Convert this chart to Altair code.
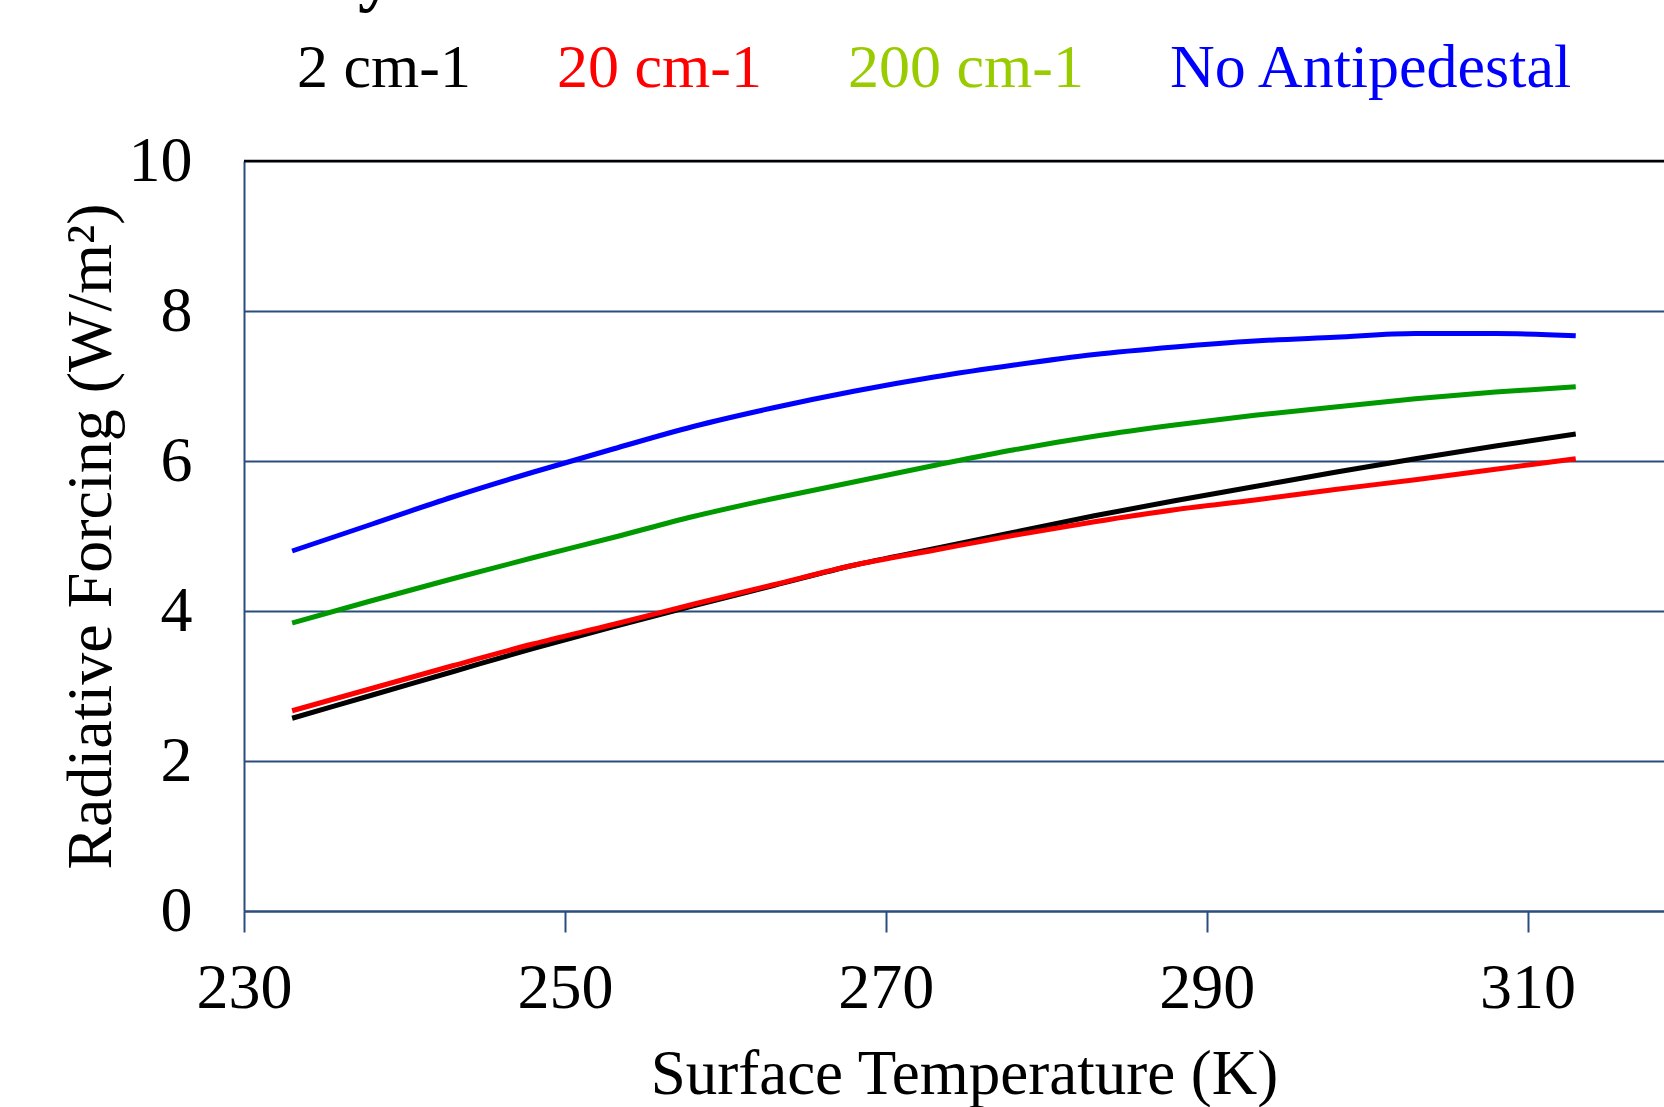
import altair as alt
import pandas as pd

# Surface temperature (K) sampled along each curve
temperature = [233, 238, 243, 248, 253, 258, 263, 268, 273, 278, 283, 288, 293, 298, 303, 308, 313]

# Radiative forcing (W/m^2) for each antipedestal width
forcing_2 = [2.57, 2.88, 3.19, 3.50, 3.79, 4.07, 4.34, 4.61, 4.83, 5.05, 5.27, 5.47, 5.66, 5.85, 6.03, 6.20, 6.36]
forcing_20 = [2.67, 2.97, 3.27, 3.56, 3.82, 4.09, 4.35, 4.61, 4.81, 5.01, 5.19, 5.35, 5.48, 5.62, 5.75, 5.89, 6.03]
forcing_200 = [3.84, 4.14, 4.43, 4.71, 4.98, 5.26, 5.50, 5.72, 5.94, 6.15, 6.33, 6.48, 6.61, 6.72, 6.83, 6.92, 6.99]
forcing_none = [4.80, 5.16, 5.52, 5.85, 6.16, 6.46, 6.71, 6.93, 7.12, 7.28, 7.42, 7.52, 7.60, 7.65, 7.70, 7.70, 7.67]

series_names = ["2 cm-1", "20 cm-1", "200 cm-1", "No Antipedestal"]
line_colors = ["#000000", "#FF0000", "#009900", "#0000FF"]
label_colors = ["#000000", "#FF0000", "#99CC00", "#0000FF"]

x_ticks = [230, 250, 270, 290, 310]
y_ticks = [0, 2, 4, 6, 8, 10]

FONT = "Liberation Serif"
AXIS_BLUE = "#2A4D7E"

rows = []
for name, values in zip(series_names, [forcing_2, forcing_20, forcing_200, forcing_none]):
    for t, v in zip(temperature, values):
        rows.append({"series": name, "T": t, "RF": v})
df = pd.DataFrame(rows)

# per-entry legend label colour
label_expr = " : ".join(
    f"datum.label == '{n}' ? '{c}'" for n, c in zip(series_names[:-1], label_colors[:-1])
) + f" : '{label_colors[-1]}'"

x_enc = alt.X(
    "T:Q",
    scale=alt.Scale(domain=[230, 318.5], nice=False, zero=False),
    axis=alt.Axis(
        values=x_ticks, format="d", grid=False,
        domainColor=AXIS_BLUE, domainWidth=2,
        tickColor=AXIS_BLUE, tickWidth=2, tickSize=21,
        labelFont=FONT, labelFontSize=64, labelColor="black", labelPadding=24,
        labelFlush=False,
        title="Surface Temperature (K)", titleFont=FONT, titleFontSize=63,
        titleFontWeight="normal", titleColor="black",
        titleX=720, titleY=182, titleBaseline="alphabetic",
    ),
)
y_enc = alt.Y(
    "RF:Q",
    scale=alt.Scale(domain=[0, 10], nice=False),
    axis=alt.Axis(
        values=y_ticks, format="d", ticks=False,
        domainColor=AXIS_BLUE, domainWidth=2,
        gridColor=AXIS_BLUE, gridWidth=2, gridOpacity=1,
        labelFont=FONT, labelFontSize=64, labelColor="black", labelPadding=52,
        title="Radiative Forcing (W/m²)", titleFont=FONT, titleFontSize=64,
        titleFontWeight="normal", titleColor="black", titleAngle=270,
        titleX=-134, titleY=375, titleBaseline="alphabetic",
    ),
)

lines = alt.Chart(df).mark_line(strokeWidth=5, interpolate="monotone").encode(
    x=x_enc,
    y=y_enc,
    color=alt.Color(
        "series:N",
        sort=series_names,
        scale=alt.Scale(domain=series_names, range=line_colors),
        legend=alt.Legend(
            title=None, orient="none", legendX=-9, legendY=-124,
            direction="horizontal", columns=4, columnPadding=24, padding=0,
            symbolSize=0, symbolOpacity=0, symbolStrokeWidth=0, labelOffset=0,
            labelFont=FONT, labelFontSize=62, labelLimit=0,
            labelColor=alt.ExprRef(expr=label_expr),
        ),
    ),
)

# black frame line along the top of the plot area
top_frame = alt.Chart(pd.DataFrame({"top": [10]})).mark_rule(
    color="black", strokeWidth=2.5
).encode(y=alt.Y("top:Q"))

# descender of the heading that sits above the figure
heading = alt.Chart(pd.DataFrame({"h": ["y"]})).mark_text(
    font=FONT, fontSize=72, fontWeight="bold", align="left",
    baseline="alphabetic", color="black",
).encode(text="h:N", x=alt.value(114), y=alt.value(-163))

chart = alt.layer(lines, top_frame, heading).properties(
    width=1420, height=750,
    autosize=alt.AutoSizeParams(type="none"),
    padding={"left": 244, "top": 161, "right": 0, "bottom": 196},
    background="white",
).configure_view(stroke=None)

chart.save("out.html", embed_options={"renderer": "svg", "actions": False})
